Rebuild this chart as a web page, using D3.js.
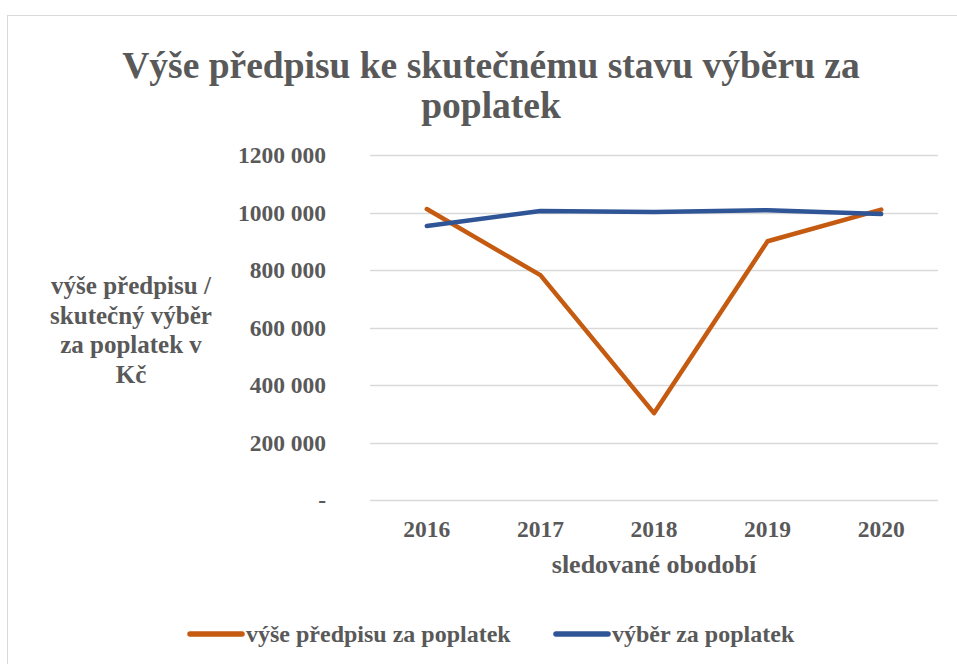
<!DOCTYPE html>
<html>
<head>
<meta charset="utf-8">
<script src="https://cdn.jsdelivr.net/npm/d3@7"></script>
<style>
body { margin: 0; background: #fff; }
</style>
</head>
<body>
<div id="svg"></div>
<script>
var width = 957;
var height = 664;
var font = "'Liberation Serif', 'Times New Roman', serif";

// data
var years = ['2016', '2017', '2018', '2019', '2020'];
var predpis = [1012000, 782000, 302000, 900000, 1010000];
var vyber = [953000, 1005000, 1002000, 1008000, 995000];
var y_ticks = [0, 200000, 400000, 600000, 800000, 1000000, 1200000];
var series_names = ['výše předpisu za poplatek', 'výběr za poplatek'];
var colors = ['#C55A11', '#2F5597'];

var canvas = d3.select('#svg')
	.append('svg')
	.attr('width', width)
	.attr('height', height);

// chart frame
canvas.append('rect')
	.attr('x', 7.5).attr('y', 15.5)
	.attr('width', 980).attr('height', 700)
	.attr('fill', 'none')
	.attr('stroke', '#d9d9d9');

var x = d3.scaleBand()
	.domain(years)
	.range([370, 938]);

var y = d3.scaleLinear()
	.domain([0, 1200000])
	.range([500, 155]);

var fmt = function(d) {
	if (d == 0) return '-';
	var s = String(d);
	return s.slice(0, s.length - 3) + ' ' + s.slice(-3);
};

function style_text(sel, size)
{ // common text look
	sel.style('font-family', font)
		.style('font-weight', 'bold')
		.style('font-size', size + 'px')
		.attr('fill', '#595959');
}

// gridlines
canvas.append('g')
	.selectAll('line')
	.data(y_ticks)
	.enter().append('line')
	.attr('x1', 370).attr('x2', 938)
	.attr('y1', (d) => Math.round(y(d)) + 0.5)
	.attr('y2', (d) => Math.round(y(d)) + 0.5)
	.attr('stroke', '#d9d9d9')
	.attr('stroke-width', 1.5);

// y axis labels
var y_axis = canvas.append('g')
	.attr('transform', 'translate(326,0)')
	.call(d3.axisLeft(y).tickValues(y_ticks).tickFormat(fmt).tickSize(0).tickPadding(0));
y_axis.select('.domain').remove();
y_axis.selectAll('text')
	.call(style_text, 23.5)
	.attr('dy', '0.33em');

// x axis labels
var x_axis = canvas.append('g')
	.attr('transform', 'translate(0,537)')
	.call(d3.axisBottom(x).tickSize(0).tickPadding(0));
x_axis.select('.domain').remove();
x_axis.selectAll('text')
	.call(style_text, 23.5)
	.attr('dy', '0');

// lines
var line = d3.line()
	.x((d, i) => x(years[i]) + x.bandwidth() / 2)
	.y((d) => y(d));

[predpis, vyber].forEach(function(s, i) {
	canvas.append('path')
		.datum(s)
		.attr('fill', 'none')
		.attr('stroke', colors[i])
		.attr('stroke-width', 4.5)
		.attr('stroke-linecap', 'round')
		.attr('stroke-linejoin', 'round')
		.attr('d', line);
});

// title
var title = canvas.append('text')
	.attr('text-anchor', 'middle')
	.call(style_text, 37.5);
title.append('tspan').attr('x', 491).attr('y', 78).text('Výše předpisu ke skutečnému stavu výběru za');
title.append('tspan').attr('x', 491).attr('y', 118).text('poplatek');

// y axis title
var y_title = canvas.append('text')
	.attr('text-anchor', 'middle')
	.call(style_text, 25);
['výše předpisu /', 'skutečný výběr', 'za poplatek v', 'Kč'].forEach(function(t, i) {
	y_title.append('tspan').attr('x', 131).attr('y', 294 + i * 29.5).text(t);
});

// x axis title
canvas.append('text')
	.attr('x', 654).attr('y', 573)
	.attr('text-anchor', 'middle')
	.call(style_text, 26)
	.text('sledované obodobí');

// legend
var legend_x = [187, 553];
series_names.forEach(function(n, i) {
	var g = canvas.append('g').attr('transform', 'translate(' + legend_x[i] + ',634)');
	g.append('line')
		.attr('x1', 3).attr('x2', 55)
		.attr('stroke', colors[i])
		.attr('stroke-width', 5.5)
		.attr('stroke-linecap', 'round');
	g.append('text')
		.attr('x', 59).attr('y', 8)
		.call(style_text, 24)
		.text(n);
});
</script>
</body>
</html>
